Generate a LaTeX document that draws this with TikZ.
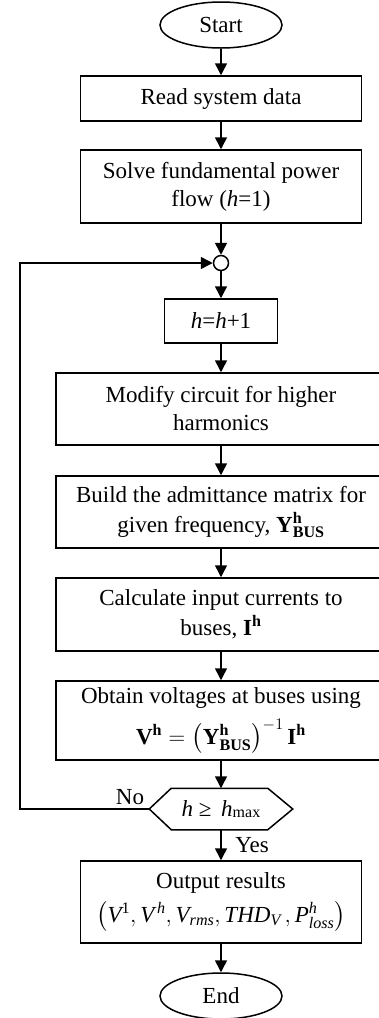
\RequirePackage{fix-cm}
\documentclass[tikz,border=0pt]{standalone}
\usepackage{amsmath}
\usepackage{fontspec}
\setmainfont{Liberation Serif}
\usetikzlibrary{arrows.meta,shapes.geometric}
\newcommand{\iv}[1]{\text{\normalfont\itshape #1}}
\newcommand{\bv}[1]{\text{\normalfont\bfseries #1}}
\begin{document}
\begin{tikzpicture}[x=1pt,y=-1pt,
  font=\fontsize{23}{28}\selectfont,
  line width=1.5pt,
  box/.style={draw, rectangle, align=center, inner sep=0pt},
  term/.style={draw, ellipse, inner sep=0pt, minimum width=122pt, minimum height=46pt},
  arr/.style={-{Triangle[length=12pt,width=12pt]}},
  lbl/.style={inner sep=0pt}]
\useasboundingbox (0,0) rectangle (379,1018);
\clip (0,0) rectangle (379,1018);
\node[term] (start) at (221,25) {Start};
\node[box, minimum width=281pt, minimum height=45pt] (read) at (221,98.5) {Read system data};
\node[box, minimum width=281pt, minimum height=73pt] (solve) at (221,186.5) {Solve fundamental power\\flow (\textit{h}=1)};
\node[draw, circle, minimum size=15pt, inner sep=0pt] (junc) at (221,263) {};
\node[box, minimum width=113pt, minimum height=44pt] (hh) at (221,321) {\textit{h}=\textit{h}+1};
\node[box, minimum width=330pt, minimum height=72pt] (modify) at (221,409) {Modify circuit for higher\\harmonics};
\node[box, minimum width=330pt, minimum height=72pt] (build) at (221,512) {Build the admittance matrix for\\[2pt]given frequency, $\bv{Y}^{\bv{h}}_{\bv{BUS}}$};
\node[box, minimum width=330pt, minimum height=73pt] (calc) at (221,614.5) {Calculate input currents to\\[2pt]buses, $\bv{I}^{\bv{h}}$};
\node[box, minimum width=330pt, minimum height=79pt] (obtain) at (221,720.5) {Obtain voltages at buses using\\[10pt]$\bv{V}^{\bv{h}}=\left(\bv{Y}^{\bv{h}}_{\bv{BUS}}\right)^{-1}\bv{I}^{\bv{h}}$};
\node[minimum width=142pt, minimum height=40pt, inner sep=0pt] (dec) at (221,809) {\textit{h} ≥\, \textit{h}\raisebox{-1pt}{\fontsize{16}{16}\selectfont max}};
\draw (dec.west) -- ([xshift=22pt]dec.north west) -- ([xshift=-25pt]dec.north east) -- (dec.east) -- ([xshift=-25pt]dec.south east) -- ([xshift=22pt]dec.south west) -- cycle;
\node[box, minimum width=281pt, minimum height=82pt] (out) at (221,902) {Output results\\[6pt]$\left(\iv{V}^{\text{1}},\iv{V}^{\,\iv{h}},\iv{V}_{\iv{rms}},\iv{THD}_{\iv{V}}\,,\iv{P}^{\iv{h}}_{\iv{loss}}\right)$};
\node[term] (end) at (221,996) {End};
\node[lbl] (no) at (130,797) {No};
\node[lbl] (yes) at (252,845) {Yes};
\coordinate (lb) at (20,809);
\coordinate (lt) at (20,263);
\draw[arr] (start) -- (read);
\draw[arr] (read) -- (solve);
\draw[arr] (solve) -- (junc);
\draw[arr] (junc) -- (hh);
\draw[arr] (hh) -- (modify);
\draw[arr] (modify) -- (build);
\draw[arr] (build) -- (calc);
\draw[arr] (calc) -- (obtain);
\draw[arr] (obtain) -- (dec);
\draw[arr] (dec) -- (out);
\draw[arr] (out) -- (end);
\draw[arr] (dec.west) -- (lb) -- (lt) -- (junc.west);
\end{tikzpicture}
\end{document}
